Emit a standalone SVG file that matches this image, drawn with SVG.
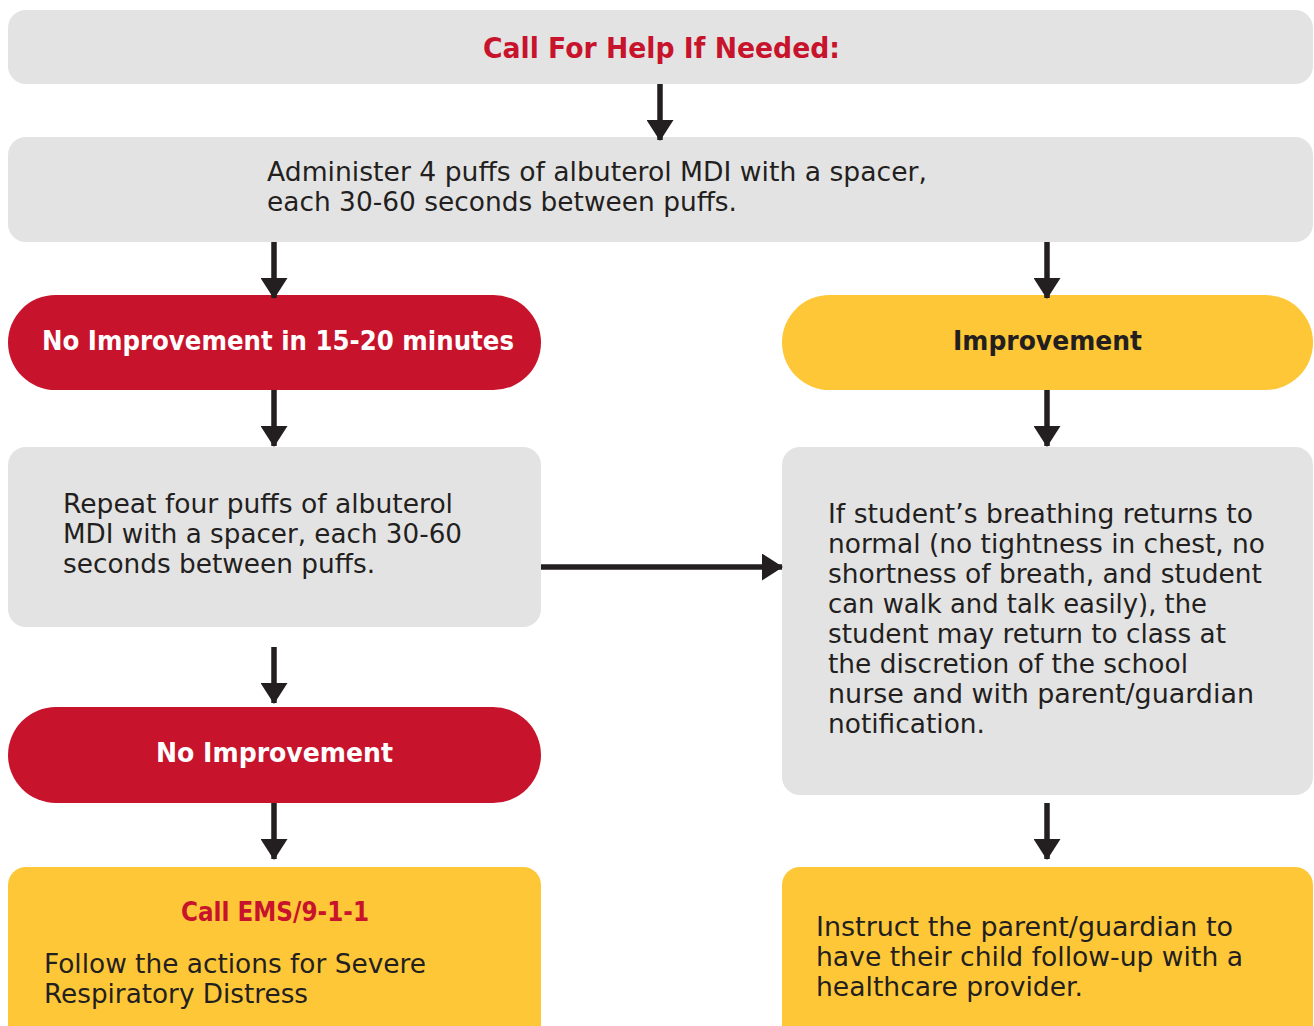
<svg xmlns="http://www.w3.org/2000/svg" width="1314" height="1026" viewBox="0 0 1314 1026">
  <defs>
    <style>
      .grey { fill: #e3e3e3; }
      .red { fill: #c8132c; }
      .yellow { fill: #fec737; }
      .body { font-family: "DejaVu Sans", "Noto Sans", sans-serif; font-size: 26px; fill: #231f20; }
      .head { font-family: "DejaVu Sans", "Noto Sans", sans-serif; font-size: 26px; font-weight: bold; text-anchor: middle; }
      .title { font-size: 28px; }
      .conn { stroke: #231f20; stroke-width: 5.5; fill: none; }
    </style>
    <marker id="arrow" viewBox="0 0 21 27" refX="20" refY="13.5" markerWidth="21" markerHeight="27" markerUnits="userSpaceOnUse" orient="auto">
      <path d="M0,0 L21,13.5 L0,27 Z" fill="#231f20"/>
    </marker>
  </defs>
  <rect width="1314" height="1026" fill="#ffffff"/>

  <g id="call-for-help">
    <rect class="grey" x="8" y="10" width="1305" height="74" rx="18"/>
    <text class="head title" x="661.5" y="58" fill="#c8132c" textLength="357" lengthAdjust="spacingAndGlyphs">Call For Help If Needed:</text>
  </g>

  <g id="administer">
    <rect class="grey" x="8" y="137" width="1305" height="105" rx="18"/>
    <text class="body" x="267" y="181" textLength="660" lengthAdjust="spacingAndGlyphs">Administer 4 puffs of albuterol MDI with a spacer,</text>
    <text class="body" x="267" y="211" textLength="470" lengthAdjust="spacingAndGlyphs">each 30-60 seconds between puffs.</text>
  </g>

  <g id="no-improvement-15">
    <rect class="red" x="8" y="295" width="533" height="95" rx="47.5"/>
    <text class="head" x="278" y="350" fill="#ffffff" textLength="472" lengthAdjust="spacingAndGlyphs">No Improvement in 15-20 minutes</text>
  </g>

  <g id="improvement">
    <rect class="yellow" x="782" y="295" width="531" height="95" rx="47.5"/>
    <text class="head" x="1047.5" y="350" fill="#231f20" textLength="189" lengthAdjust="spacingAndGlyphs">Improvement</text>
  </g>

  <g id="repeat-puffs">
    <rect class="grey" x="8" y="447" width="533" height="180" rx="18"/>
    <text class="body" x="63" y="513" textLength="390" lengthAdjust="spacingAndGlyphs">Repeat four puffs of albuterol</text>
    <text class="body" x="63" y="543" textLength="399" lengthAdjust="spacingAndGlyphs">MDI with a spacer, each 30-60</text>
    <text class="body" x="63" y="573" textLength="312" lengthAdjust="spacingAndGlyphs">seconds between puffs.</text>
  </g>

  <g id="return-to-class">
    <rect class="grey" x="782" y="447" width="531" height="348" rx="18"/>
    <text class="body" x="828" y="523" textLength="425" lengthAdjust="spacingAndGlyphs">If student’s breathing returns to</text>
    <text class="body" x="828" y="553" textLength="437" lengthAdjust="spacingAndGlyphs">normal (no tightness in chest, no</text>
    <text class="body" x="828" y="583" textLength="434" lengthAdjust="spacingAndGlyphs">shortness of breath, and student</text>
    <text class="body" x="828" y="613" textLength="379" lengthAdjust="spacingAndGlyphs">can walk and talk easily), the</text>
    <text class="body" x="828" y="643" textLength="398" lengthAdjust="spacingAndGlyphs">student may return to class at</text>
    <text class="body" x="828" y="673" textLength="360" lengthAdjust="spacingAndGlyphs">the discretion of the school</text>
    <text class="body" x="828" y="703" textLength="426" lengthAdjust="spacingAndGlyphs">nurse and with parent/guardian</text>
    <text class="body" x="828" y="733" textLength="157" lengthAdjust="spacingAndGlyphs">notification.</text>
  </g>

  <g id="no-improvement">
    <rect class="red" x="8" y="707" width="533" height="96" rx="48"/>
    <text class="head" x="274.5" y="762" fill="#ffffff" textLength="237" lengthAdjust="spacingAndGlyphs">No Improvement</text>
  </g>

  <g id="call-ems">
    <rect class="yellow" x="8" y="867" width="533" height="180" rx="18"/>
    <text class="head" x="275" y="921" fill="#c8132c" textLength="188" lengthAdjust="spacingAndGlyphs">Call EMS/9-1-1</text>
    <text class="body" x="44" y="973" textLength="382" lengthAdjust="spacingAndGlyphs">Follow the actions for Severe</text>
    <text class="body" x="44" y="1003" textLength="264" lengthAdjust="spacingAndGlyphs">Respiratory Distress</text>
  </g>

  <g id="follow-up">
    <rect class="yellow" x="782" y="867" width="531" height="180" rx="18"/>
    <text class="body" x="816" y="936" textLength="417" lengthAdjust="spacingAndGlyphs">Instruct the parent/guardian to</text>
    <text class="body" x="816" y="966" textLength="427" lengthAdjust="spacingAndGlyphs">have their child follow-up with a</text>
    <text class="body" x="816" y="996" textLength="267" lengthAdjust="spacingAndGlyphs">healthcare provider.</text>
  </g>

  <g id="connectors">
    <line class="conn" x1="660" y1="84" x2="660" y2="140" marker-end="url(#arrow)"/>
    <line class="conn" x1="274" y1="242" x2="274" y2="298" marker-end="url(#arrow)"/>
    <line class="conn" x1="1047" y1="242" x2="1047" y2="298" marker-end="url(#arrow)"/>
    <line class="conn" x1="274" y1="390" x2="274" y2="446" marker-end="url(#arrow)"/>
    <line class="conn" x1="1047" y1="390" x2="1047" y2="446" marker-end="url(#arrow)"/>
    <line class="conn" x1="541" y1="567" x2="782" y2="567" marker-end="url(#arrow)"/>
    <line class="conn" x1="274" y1="647" x2="274" y2="703" marker-end="url(#arrow)"/>
    <line class="conn" x1="274" y1="803" x2="274" y2="859" marker-end="url(#arrow)"/>
    <line class="conn" x1="1047" y1="803" x2="1047" y2="859" marker-end="url(#arrow)"/>
  </g>
</svg>
